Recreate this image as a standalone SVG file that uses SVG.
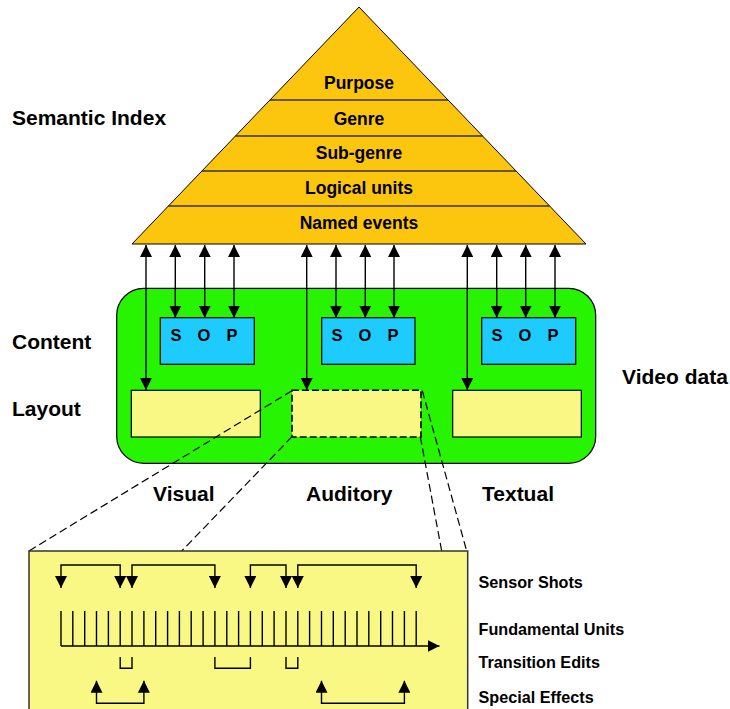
<svg xmlns="http://www.w3.org/2000/svg" width="730" height="709" viewBox="0 0 730 709">
  <style>
    text { font-family: "Liberation Sans", Arial, sans-serif; font-weight: bold; fill: #000; }
    .side { font-size: 21px; }
    .tier { font-size: 17.5px; text-anchor: middle; }
    .sop { font-size: 16.5px; text-anchor: middle; }
    .legend { font-size: 16.2px; }
    .conn { stroke: #000; stroke-width: 1.4; fill: none; }
    .dash { stroke: #000; stroke-width: 1.2; fill: none; stroke-dasharray: 8 4; }
    .sep { stroke: #3a3000; stroke-width: 1.6; }
    .sopbox { fill: #1ECBFF; stroke: #000; stroke-width: 1.2; }
    .layout { fill: #FAF884; stroke: #000; stroke-width: 1.2; }
  </style>
  <defs>
    <marker id="head" markerUnits="userSpaceOnUse" markerWidth="12" markerHeight="12" viewBox="0 0 12 12" refX="12" refY="6" orient="auto-start-reverse">
      <path d="M0,0 L12,6 L0,12 z" fill="#000"/>
    </marker>
  </defs>

  <rect width="730" height="709" fill="#fff"/>

  <!-- semantic index pyramid -->
  <g id="pyramid">
    <polygon points="359,7 132,244 586,244" fill="#FCC60E" stroke="#000" stroke-width="1"/>
    <line class="sep" x1="269.9" y1="100" x2="448.1" y2="100"/>
    <line class="sep" x1="235.4" y1="136" x2="482.6" y2="136"/>
    <line class="sep" x1="201.9" y1="171" x2="516.1" y2="171"/>
    <line class="sep" x1="168.4" y1="206" x2="549.6" y2="206"/>
    <text class="tier" x="359" y="89">Purpose</text>
    <text class="tier" x="359" y="124.5">Genre</text>
    <text class="tier" x="359" y="159">Sub-genre</text>
    <text class="tier" x="359" y="194">Logical units</text>
    <text class="tier" x="359" y="228.5">Named events</text>
  </g>

  <!-- video data container -->
  <g id="video-data">
    <rect x="116.7" y="288.3" width="479" height="175" rx="27" ry="27" fill="#26F400" stroke="#000" stroke-width="1.2"/>
  </g>

  <g id="sop-visual">
    <rect class="sopbox" x="160.3" y="317.7" width="94" height="46.6"/>
    <text class="sop" x="176" y="340.7">S</text>
    <text class="sop" x="204" y="340.7">O</text>
    <text class="sop" x="232" y="340.7">P</text>
  </g>
  <g id="sop-auditory">
    <rect class="sopbox" x="321.7" y="317.7" width="93.3" height="46.6"/>
    <text class="sop" x="337" y="340.7">S</text>
    <text class="sop" x="365" y="340.7">O</text>
    <text class="sop" x="393" y="340.7">P</text>
  </g>
  <g id="sop-textual">
    <rect class="sopbox" x="481.7" y="317.7" width="94" height="46.6"/>
    <text class="sop" x="497" y="340.7">S</text>
    <text class="sop" x="525" y="340.7">O</text>
    <text class="sop" x="553" y="340.7">P</text>
  </g>

  <g id="layout-visual">
    <rect class="layout" x="131.3" y="390.3" width="129" height="46.7"/>
  </g>
  <g id="layout-auditory">
    <rect x="292" y="390.3" width="129" height="46.7" fill="#FAF884" stroke="#000" stroke-width="1.6" stroke-dasharray="7 3"/>
  </g>
  <g id="layout-textual">
    <rect class="layout" x="452.7" y="390.3" width="128.6" height="46.7"/>
  </g>

  <!-- connectors between the index and the video data -->
  <g id="connectors">
    <line class="conn" x1="146" y1="245" x2="146" y2="390" marker-start="url(#head)" marker-end="url(#head)"/>
    <line class="conn" x1="175.3" y1="245" x2="175.3" y2="317.7" marker-start="url(#head)" marker-end="url(#head)"/>
    <line class="conn" x1="204.7" y1="245" x2="204.7" y2="317.7" marker-start="url(#head)" marker-end="url(#head)"/>
    <line class="conn" x1="234" y1="245" x2="234" y2="317.7" marker-start="url(#head)" marker-end="url(#head)"/>

    <line class="conn" x1="306.7" y1="245" x2="306.7" y2="390" marker-start="url(#head)" marker-end="url(#head)"/>
    <line class="conn" x1="336" y1="245" x2="336" y2="317.7" marker-start="url(#head)" marker-end="url(#head)"/>
    <line class="conn" x1="365.3" y1="245" x2="365.3" y2="317.7" marker-start="url(#head)" marker-end="url(#head)"/>
    <line class="conn" x1="394" y1="245" x2="394" y2="317.7" marker-start="url(#head)" marker-end="url(#head)"/>

    <line class="conn" x1="467.3" y1="245" x2="467.3" y2="390" marker-start="url(#head)" marker-end="url(#head)"/>
    <line class="conn" x1="496.7" y1="245" x2="496.7" y2="317.7" marker-start="url(#head)" marker-end="url(#head)"/>
    <line class="conn" x1="525.7" y1="245" x2="525.7" y2="317.7" marker-start="url(#head)" marker-end="url(#head)"/>
    <line class="conn" x1="555" y1="245" x2="555" y2="317.7" marker-start="url(#head)" marker-end="url(#head)"/>

    <!-- zoom projection from the auditory layout box -->
    <line class="dash" x1="292" y1="390.7" x2="29" y2="551"/>
    <line class="dash" x1="292" y1="436.7" x2="181.7" y2="551"/>
    <line class="dash" x1="422.3" y1="390.7" x2="466.7" y2="551"/>
    <line class="dash" x1="420.3" y1="436.7" x2="441.7" y2="551"/>
  </g>

  <!-- side labels -->
  <g id="labels">
    <text class="side" x="12" y="125">Semantic Index</text>
    <text class="side" x="12" y="349">Content</text>
    <text class="side" x="12" y="416">Layout</text>
    <text class="side" x="622" y="383.5">Video data</text>
    <text class="side" x="153" y="501">Visual</text>
    <text class="side" x="306" y="501">Auditory</text>
    <text class="side" x="482" y="500.5">Textual</text>
  </g>

  <!-- detail view of the audio stream -->
  <g id="detail">
    <rect x="29" y="551" width="438.7" height="170" fill="#FAF884" stroke="#333" stroke-width="1.5"/>

    <!-- sensor shots -->
    <path class="conn" d="M61,588 V565 H120.2 V588" marker-start="url(#head)" marker-end="url(#head)"/>
    <path class="conn" d="M132,588 V565 H214.9 V588" marker-start="url(#head)" marker-end="url(#head)"/>
    <path class="conn" d="M250.4,588 V565 H286 V588" marker-start="url(#head)" marker-end="url(#head)"/>
    <path class="conn" d="M297.8,588 V565 H416.2 V588" marker-start="url(#head)" marker-end="url(#head)"/>

    <!-- fundamental units -->
    <path class="conn" d="M61,611V646 M72.8,611V646 M84.7,611V646 M96.5,611V646 M108.4,611V646 M120.2,611V646 M132,611V646 M143.9,611V646 M155.7,611V646 M167.6,611V646 M179.4,611V646 M191.2,611V646 M203.1,611V646 M214.9,611V646 M226.8,611V646 M238.6,611V646 M250.4,611V646 M262.3,611V646 M274.1,611V646 M286,611V646 M297.8,611V646 M309.6,611V646 M321.5,611V646 M333.3,611V646 M345.2,611V646 M357,611V646 M368.8,611V646 M380.7,611V646 M392.5,611V646 M404.4,611V646 M416.2,611V646"/>
    <path class="conn" d="M61,646 H439.5" marker-end="url(#head)"/>

    <!-- transition edits -->
    <path class="conn" d="M120.2,657 V668.3 H132 V657"/>
    <path class="conn" d="M214.9,657 V668.3 H250.4 V657"/>
    <path class="conn" d="M286,657 V668.3 H297.8 V657"/>

    <!-- special effects -->
    <path class="conn" d="M96.5,680.7 V703.3 H143.9 V680.7" marker-start="url(#head)" marker-end="url(#head)"/>
    <path class="conn" d="M321.5,680.7 V703.3 H404.4 V680.7" marker-start="url(#head)" marker-end="url(#head)"/>

    <text class="legend" x="478.5" y="587.5">Sensor Shots</text>
    <text class="legend" x="478.5" y="634.5">Fundamental Units</text>
    <text class="legend" x="478.5" y="668">Transition Edits</text>
    <text class="legend" x="478.5" y="703">Special Effects</text>
  </g>
</svg>
